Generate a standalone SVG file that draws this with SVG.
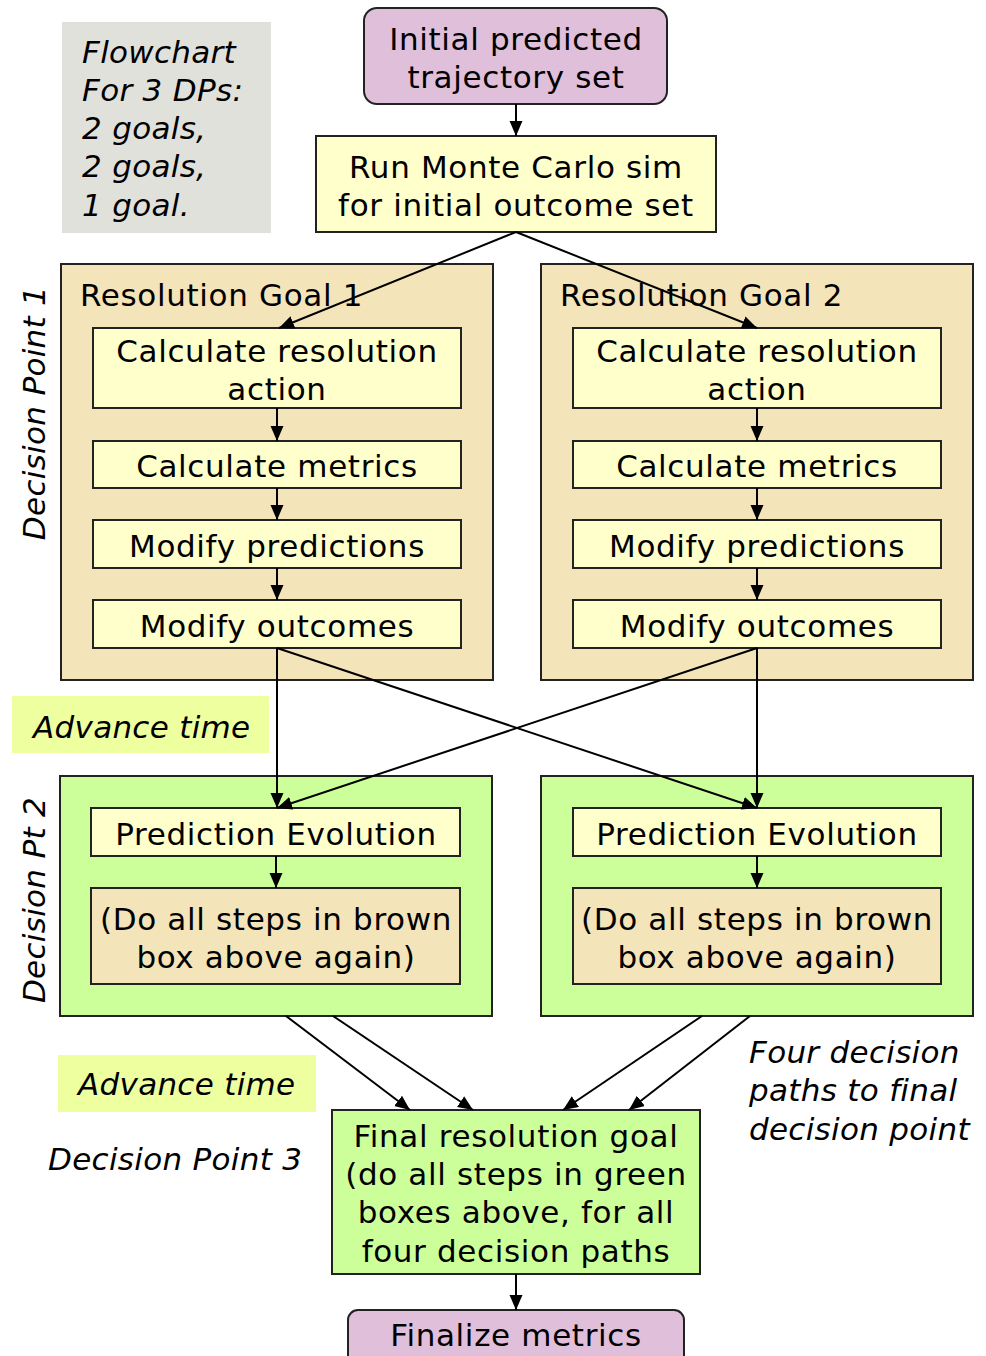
<svg xmlns="http://www.w3.org/2000/svg" width="986" height="1356" viewBox="0 0 986 1356">
  <defs>
    <marker id="arrow" markerUnits="userSpaceOnUse" markerWidth="16" markerHeight="14" refX="15" refY="6.5" orient="auto">
      <path d="M0,0 L15,6.5 L0,13 z" fill="#000"/>
    </marker>
    <style>
      text { font-family: "DejaVu Sans", Verdana, sans-serif; font-size: 31px; fill: #000; letter-spacing: 0.65px; }
      .c { text-anchor: middle; }
      .it { font-style: italic; letter-spacing: 0.3px; }
      .box { stroke: #222; stroke-width: 2; }
      .purple { fill: #dfbfda; }
      .yellow { fill: #ffffcc; }
      .wheat { fill: #f3e4b9; }
      .green { fill: #ccff99; }
      .note { fill: #eeffa0; }
      .gray { fill: #e1e1dc; }
      .conn { stroke: #000; stroke-width: 2; fill: none; marker-end: url(#arrow); }
    </style>
  </defs>

  <rect width="986" height="1356" fill="#fff"/>

  <!-- legend -->
  <g id="legend">
    <rect x="62" y="22" width="209" height="211" class="gray"/>
    <text x="82" y="63" class="it">Flowchart</text>
    <text x="82" y="101" class="it">For 3 DPs:</text>
    <text x="82" y="139" class="it">2 goals,</text>
    <text x="82" y="177" class="it">2 goals,</text>
    <text x="82" y="216" class="it">1 goal.</text>
  </g>

  <g id="start">
    <rect x="364" y="8" width="303" height="96" rx="13" class="box purple"/>
    <text x="516" y="50" class="c">Initial predicted</text>
    <text x="516" y="88" class="c">trajectory set</text>
  </g>

  <g id="montecarlo">
    <rect x="316" y="136" width="400" height="96" class="box yellow"/>
    <text x="516" y="178" class="c">Run Monte Carlo sim</text>
    <text x="516" y="216" class="c">for initial outcome set</text>
  </g>

  <!-- decision point 1 -->
  <g id="dp1-label">
    <text transform="translate(45,413) rotate(-90)" class="c it">Decision Point 1</text>
  </g>

  <g id="goal1">
    <rect x="61" y="264" width="432" height="416" class="box wheat"/>
    <text x="80" y="306">Resolution Goal 1</text>
  </g>
  <g id="goal1-calc-action">
    <rect x="93" y="328" width="368" height="80" class="box yellow"/>
    <text x="277" y="362" class="c">Calculate resolution</text>
    <text x="277" y="400" class="c">action</text>
  </g>
  <g id="goal1-calc-metrics">
    <rect x="93" y="441" width="368" height="47" class="box yellow"/>
    <text x="277" y="477" class="c">Calculate metrics</text>
  </g>
  <g id="goal1-mod-pred">
    <rect x="93" y="520" width="368" height="48" class="box yellow"/>
    <text x="277" y="557" class="c">Modify predictions</text>
  </g>
  <g id="goal1-mod-out">
    <rect x="93" y="600" width="368" height="48" class="box yellow"/>
    <text x="277" y="637" class="c">Modify outcomes</text>
  </g>

  <g id="goal2">
    <rect x="541" y="264" width="432" height="416" class="box wheat"/>
    <text x="560" y="306">Resolution Goal 2</text>
  </g>
  <g id="goal2-calc-action">
    <rect x="573" y="328" width="368" height="80" class="box yellow"/>
    <text x="757" y="362" class="c">Calculate resolution</text>
    <text x="757" y="400" class="c">action</text>
  </g>
  <g id="goal2-calc-metrics">
    <rect x="573" y="441" width="368" height="47" class="box yellow"/>
    <text x="757" y="477" class="c">Calculate metrics</text>
  </g>
  <g id="goal2-mod-pred">
    <rect x="573" y="520" width="368" height="48" class="box yellow"/>
    <text x="757" y="557" class="c">Modify predictions</text>
  </g>
  <g id="goal2-mod-out">
    <rect x="573" y="600" width="368" height="48" class="box yellow"/>
    <text x="757" y="637" class="c">Modify outcomes</text>
  </g>

  <g id="advance1">
    <rect x="12" y="696" width="257" height="57" class="note"/>
    <text x="33" y="738" class="it">Advance time</text>
  </g>

  <!-- decision point 2 -->
  <g id="dp2-label">
    <text transform="translate(45,900) rotate(-90)" class="c it">Decision Pt 2</text>
  </g>

  <g id="dp2-left">
    <rect x="60" y="776" width="432" height="240" class="box green"/>
  </g>
  <g id="dp2-left-evolve">
    <rect x="91" y="808" width="369" height="48" class="box yellow"/>
    <text x="276" y="845" class="c">Prediction Evolution</text>
  </g>
  <g id="dp2-left-repeat">
    <rect x="91" y="888" width="369" height="96" class="box wheat"/>
    <text x="276" y="930" class="c">(Do all steps in brown</text>
    <text x="276" y="968" class="c">box above again)</text>
  </g>

  <g id="dp2-right">
    <rect x="541" y="776" width="432" height="240" class="box green"/>
  </g>
  <g id="dp2-right-evolve">
    <rect x="573" y="808" width="368" height="48" class="box yellow"/>
    <text x="757" y="845" class="c">Prediction Evolution</text>
  </g>
  <g id="dp2-right-repeat">
    <rect x="573" y="888" width="368" height="96" class="box wheat"/>
    <text x="757" y="930" class="c">(Do all steps in brown</text>
    <text x="757" y="968" class="c">box above again)</text>
  </g>

  <!-- decision point 3 -->
  <g id="advance2">
    <rect x="58" y="1055" width="258" height="57" class="note"/>
    <text x="78" y="1095" class="it">Advance time</text>
  </g>
  <g id="dp3-label">
    <text x="48" y="1170" class="it">Decision Point 3</text>
  </g>
  <g id="paths-note">
    <text x="749" y="1063" class="it">Four decision</text>
    <text x="749" y="1101" class="it">paths to final</text>
    <text x="749" y="1140" class="it">decision point</text>
  </g>

  <g id="final-goal">
    <rect x="332" y="1110" width="368" height="164" class="box green"/>
    <text x="516" y="1147" class="c">Final resolution goal</text>
    <text x="516" y="1185" class="c">(do all steps in green</text>
    <text x="516" y="1223" class="c">boxes above, for all</text>
    <text x="516" y="1262" class="c">four decision paths</text>
  </g>

  <g id="finalize">
    <rect x="348" y="1310" width="336" height="60" rx="10" class="box purple"/>
    <text x="516" y="1346" class="c">Finalize metrics</text>
  </g>

  <!-- connectors -->
  <g id="connectors">
    <path class="conn" d="M516,104 L516,136"/>
    <path class="conn" d="M516,232 L279,328"/>
    <path class="conn" d="M516,232 L757,328"/>

    <path class="conn" d="M277,408 L277,441"/>
    <path class="conn" d="M277,488 L277,520"/>
    <path class="conn" d="M277,568 L277,600"/>
    <path class="conn" d="M757,408 L757,441"/>
    <path class="conn" d="M757,488 L757,520"/>
    <path class="conn" d="M757,568 L757,600"/>

    <path class="conn" d="M277,648 L277,808"/>
    <path class="conn" d="M277,648 L757,808"/>
    <path class="conn" d="M757,648 L277,808"/>
    <path class="conn" d="M757,648 L757,808"/>

    <path class="conn" d="M276,856 L276,888"/>
    <path class="conn" d="M757,856 L757,888"/>

    <path class="conn" d="M286,1016 L410,1110"/>
    <path class="conn" d="M333,1016 L473,1110"/>
    <path class="conn" d="M702,1016 L563,1110"/>
    <path class="conn" d="M750,1016 L629,1110"/>

    <path class="conn" d="M516,1274 L516,1310"/>
  </g>
</svg>
